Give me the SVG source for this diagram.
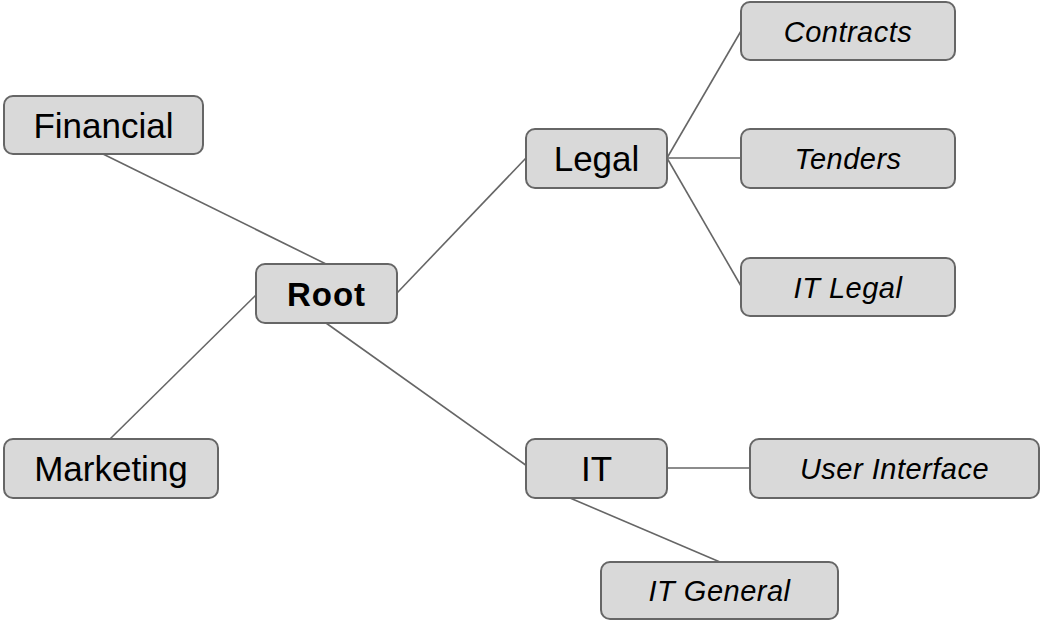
<svg xmlns="http://www.w3.org/2000/svg" width="1043" height="621" viewBox="0 0 1043 621">
<style>
.box{fill:#d9d9d9;stroke:#666;stroke-width:2}
.l1{font-family:"Liberation Sans",Arial,sans-serif;font-size:35px;fill:#000;text-anchor:middle}
.root{font-family:"Liberation Sans",Arial,sans-serif;font-size:33px;font-weight:bold;fill:#000;text-anchor:middle;letter-spacing:1px}
.l2{font-family:"Liberation Sans",Arial,sans-serif;font-size:29px;font-style:italic;fill:#000;text-anchor:middle;letter-spacing:0.5px}
.edge{stroke:#666;stroke-width:1.6;fill:none}
</style>
<rect width="1043" height="621" fill="#fff"/>
<g id="connectors">
<line class="edge" x1="103" y1="154" x2="326" y2="264"/>
<line class="edge" x1="110" y1="439" x2="256" y2="295"/>
<line class="edge" x1="397" y1="293" x2="526" y2="158"/>
<line class="edge" x1="326" y1="323" x2="527" y2="466"/>
<line class="edge" x1="667" y1="158" x2="741" y2="31"/>
<line class="edge" x1="667" y1="158" x2="741" y2="158"/>
<line class="edge" x1="667" y1="158" x2="741" y2="286"/>
<line class="edge" x1="667" y1="468" x2="750" y2="468"/>
<line class="edge" x1="570" y1="498" x2="720" y2="562"/>
</g>
<g id="financial"><rect class="box" x="4" y="96" width="199" height="58" rx="9"/><text class="l1" x="103.5" y="137.5">Financial</text></g>
<g id="marketing"><rect class="box" x="4" y="439" width="214" height="59" rx="9"/><text class="l1" x="111" y="481">Marketing</text></g>
<g id="root"><rect class="box" x="256" y="264" width="141" height="59" rx="9"/><text class="root" x="326.5" y="305.5">Root</text></g>
<g id="legal"><rect class="box" x="526" y="129" width="141" height="59" rx="9"/><text class="l1" x="596.5" y="170.5">Legal</text></g>
<g id="it"><rect class="box" x="526" y="439" width="141" height="59" rx="9"/><text class="l1" x="596.5" y="481">IT</text></g>
<g id="contracts"><rect class="box" x="741" y="2" width="214" height="58" rx="9"/><text class="l2" x="848" y="42">Contracts</text></g>
<g id="tenders"><rect class="box" x="741" y="129" width="214" height="59" rx="9"/><text class="l2" x="848" y="169">Tenders</text></g>
<g id="itlegal"><rect class="box" x="741" y="258" width="214" height="58" rx="9"/><text class="l2" x="848" y="298">IT Legal</text></g>
<g id="userinterface"><rect class="box" x="750" y="439" width="289" height="59" rx="9"/><text class="l2" x="894.5" y="478.5">User Interface</text></g>
<g id="itgeneral"><rect class="box" x="601" y="562" width="237" height="57" rx="9"/><text class="l2" x="719.5" y="601">IT General</text></g>
</svg>
